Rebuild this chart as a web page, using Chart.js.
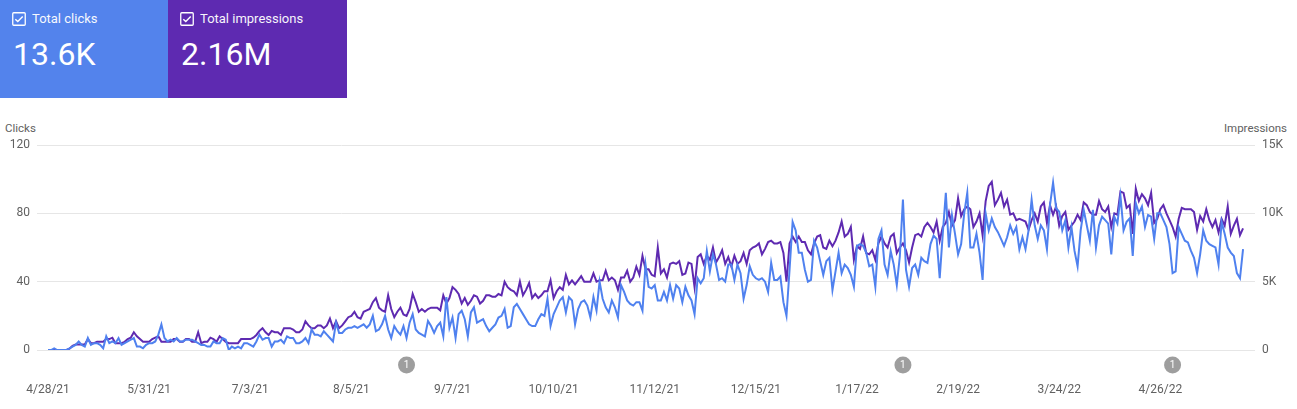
<!DOCTYPE html>
<html>
<head>
<meta charset="utf-8">
<script src="https://cdn.jsdelivr.net/npm/chart.js@4"></script>
<style>
  body { margin: 0; width: 1297px; height: 409px; overflow: hidden; background: #fff; font-family: Roboto, sans-serif; position: relative; }
  .card { position: absolute; top: 0; height: 98px; color: #fff; }
  .card .name { position: absolute; left: 32px; top: 11px; font-size: 13px; opacity: 0.95; }
  .card svg { position: absolute; left: 12px; top: 12px; }
  .card .value { position: absolute; left: 13px; top: 35px; font-size: 32px; }
  #clicksCard { left: 0; width: 168px; background: #5383ec; }
  #imprCard { left: 168px; width: 179px; background: #5e2ab1; }
  .axisTitle { position: absolute; top: 121px; font-size: 11.5px; color: #616161; }
  #wrap { position: absolute; left: 0; top: 100px; width: 1297px; height: 309px; }
</style>
</head>
<body>
<div class="card" id="clicksCard">
  <svg width="14" height="14" viewBox="0 0 14 14"><rect x="0.75" y="0.75" width="12.5" height="12.5" rx="1" fill="none" stroke="#fff" stroke-width="1.3"/><path d="M3.3 7.2 L5.8 9.6 L10.7 4.6" fill="none" stroke="#fff" stroke-width="1.4"/></svg>
  <div class="name">Total clicks</div>
  <div class="value">13.6K</div>
</div>
<div class="card" id="imprCard">
  <svg width="14" height="14" viewBox="0 0 14 14"><rect x="0.75" y="0.75" width="12.5" height="12.5" rx="1" fill="none" stroke="#fff" stroke-width="1.3"/><path d="M3.3 7.2 L5.8 9.6 L10.7 4.6" fill="none" stroke="#fff" stroke-width="1.4"/></svg>
  <div class="name">Total impressions</div>
  <div class="value">2.16M</div>
</div>
<div class="axisTitle" style="left:5px">Clicks</div>
<div class="axisTitle" style="right:10px">Impressions</div>
<div id="wrap"><canvas id="chart"></canvas></div>
<script>
// one value per day, starting 4/28/21
const startDate = '2021-04-28';

const clicks = [
  0, 0, 1, 0, 0, 0, 0, 1, 2, 3,
  5, 3, 2, 7, 3, 4, 4, 3, 1, 8,
  4, 5, 4, 7, 3, 4, 5, 6, 7, 2,
  2, 1, 3, 4, 4, 5, 9, 15, 7, 5,
  6, 5, 7, 5, 5, 6, 6, 6, 5, 4,
  3, 3, 2, 2, 5, 4, 4, 7, 6, 0,
  2, 1, 2, 1, 4, 4, 3, 2, 5, 9,
  6, 7, 7, 2, 5, 5, 6, 4, 8, 7,
  7, 4, 4, 5, 7, 4, 12, 9, 9, 8,
  11, 9, 7, 5, 16, 10, 10, 12, 13, 13,
  14, 13, 14, 15, 13, 15, 20, 11, 12, 15,
  20, 12, 7, 14, 11, 9, 14, 7, 16, 21,
  12, 10, 9, 8, 17, 14, 10, 14, 16, 8,
  31, 13, 19, 7, 21, 23, 18, 8, 22, 25,
  16, 17, 18, 14, 11, 13, 15, 19, 20, 24,
  13, 14, 25, 27, 24, 21, 18, 15, 14, 14,
  18, 21, 20, 30, 14, 21, 25, 29, 31, 22,
  31, 29, 15, 24, 28, 29, 26, 19, 31, 23,
  40, 30, 25, 22, 29, 25, 19, 38, 34, 29,
  27, 26, 28, 28, 23, 50, 37, 36, 38, 29,
  29, 34, 29, 38, 30, 38, 36, 28, 37, 32,
  29, 21, 42, 39, 42, 58, 46, 56, 50, 41,
  42, 40, 50, 50, 41, 50, 45, 30, 38, 49,
  44, 42, 41, 42, 40, 34, 51, 41, 41, 43,
  28, 20, 47, 75, 70, 57, 57, 47, 40, 41,
  64, 60, 52, 44, 52, 54, 35, 46, 57, 45,
  50, 48, 44, 37, 61, 62, 61, 57, 49, 50,
  37, 65, 70, 50, 44, 58, 50, 38, 55, 88,
  47, 37, 48, 50, 44, 54, 52, 51, 62, 67,
  65, 42, 68, 92, 60, 79, 68, 56, 62, 80,
  92, 60, 60, 68, 57, 41, 80, 70, 77, 72,
  69, 65, 61, 66, 73, 68, 72, 59, 66, 59,
  70, 88, 73, 65, 73, 70, 59, 85, 98, 83,
  81, 70, 76, 60, 72, 58, 49, 70, 82, 73,
  64, 82, 60, 73, 78, 76, 74, 56, 78, 74,
  90, 70, 75, 77, 55, 86, 80, 84, 72, 79,
  78, 65, 80, 80, 76, 72, 62, 45, 46, 72,
  68, 64, 63, 58, 54, 45, 56, 70, 64, 62,
  61, 60, 50, 75, 68, 60, 57, 55, 45, 42, 59
];

// impressions in thousands
const impressionsK = [
  0, 0, 0, 0, 0, 0, 0, 0.1, 0.3, 0.4,
  0.4, 0.4, 0.4, 0.8, 0.5, 0.5, 0.6, 0.6, 0.6, 0.8,
  0.8, 0.9, 0.5, 0.5, 0.5, 0.6, 0.8, 0.9, 1.3, 1.0,
  0.8, 0.6, 0.6, 0.6, 0.8, 0.9, 1.0, 0.6, 0.6, 0.6,
  0.6, 0.8, 0.8, 0.6, 0.6, 0.8, 0.8, 0.6, 0.6, 1.3,
  0.5, 0.6, 0.6, 0.9, 0.8, 0.6, 1.0, 0.8, 0.6, 0.5,
  0.5, 0.5, 0.5, 0.8, 0.8, 0.8, 0.8, 0.9, 1.1, 1.4,
  1.6, 1.3, 1.1, 1.4, 1.3, 1.3, 1.1, 1.6, 1.6, 1.6,
  1.5, 1.3, 1.3, 1.5, 2.1, 1.8, 1.6, 1.6, 1.8, 1.8,
  1.6, 1.8, 2.3, 1.6, 2.1, 1.6, 1.8, 2.1, 2.4, 2.5,
  2.8, 2.4, 2.3, 2.8, 2.9, 3.0, 3.5, 3.8, 3.1, 2.9,
  2.8, 4.0, 3.0, 2.4, 2.8, 3.1, 2.6, 2.5, 3.0, 4.1,
  3.5, 2.8, 3.0, 2.8, 3.0, 3.1, 3.1, 3.1, 2.9, 4.0,
  3.4, 3.8, 4.6, 4.4, 4.1, 3.4, 3.8, 3.3, 3.6, 4.0,
  3.9, 3.4, 3.6, 4.0, 4.0, 3.9, 3.9, 4.1, 4.0, 5.0,
  4.6, 4.4, 4.3, 4.0, 5.0, 4.0, 4.4, 4.9, 3.8, 4.1,
  3.8, 4.0, 4.3, 4.3, 5.1, 3.8, 4.3, 4.6, 4.4, 5.5,
  4.8, 5.1, 4.8, 5.1, 5.4, 5.0, 5.0, 5.0, 5.6, 5.0,
  5.1, 5.1, 5.8, 5.1, 5.3, 5.1, 4.4, 5.3, 5.3, 5.8,
  5.0, 5.3, 6.1, 5.5, 6.9, 5.9, 5.9, 5.5, 5.4, 7.5,
  5.6, 5.9, 5.3, 6.3, 6.4, 6.3, 6.5, 5.5, 5.6, 6.4,
  6.3, 4.6, 6.8, 7.0, 6.3, 6.9, 6.6, 7.5, 6.4, 6.8,
  7.3, 6.3, 6.8, 6.1, 6.9, 6.3, 6.5, 7.1, 6.3, 7.3,
  7.5, 7.6, 7.8, 7.0, 7.4, 7.9, 8.0, 7.8, 7.8, 7.9,
  7.1, 5.0, 7.8, 8.3, 7.9, 8.3, 7.9, 7.9, 7.3, 7.0,
  7.8, 8.3, 8.4, 7.5, 7.4, 8.0, 7.6, 8.0, 8.6, 9.4,
  8.3, 8.5, 9.0, 6.6, 7.6, 7.4, 8.3, 7.1, 7.0, 7.3,
  6.6, 7.8, 8.3, 7.8, 7.5, 8.3, 8.5, 7.1, 7.5, 7.8,
  7.3, 6.4, 7.5, 8.4, 8.5, 8.3, 9.0, 9.3, 9.0, 8.6,
  9.4, 8.0, 9.0, 9.3, 10.1, 9.1, 9.5, 11.1, 9.8, 10.3,
  10.5, 10.3, 9.0, 9.4, 10.0, 8.4, 10.9, 12.0, 12.3, 10.6,
  11.0, 11.5, 10.5, 11.0, 9.9, 10.0, 9.5, 9.6, 9.5, 9.4,
  8.8, 9.5, 10.0, 9.4, 10.5, 10.8, 9.3, 10.6, 9.9, 10.5,
  9.1, 9.8, 10.1, 8.8, 9.1, 9.4, 9.9, 9.5, 10.8, 10.6,
  10.1, 9.9, 9.9, 10.9, 10.3, 10.1, 10.5, 9.0, 10.0, 9.9,
  11.6, 11.5, 10.4, 10.6, 8.5, 11.8, 10.9, 11.4, 11.1, 10.6,
  11.5, 9.3, 9.6, 10.3, 10.6, 10.0, 9.5, 9.0, 8.3, 9.6,
  10.4, 10.3, 10.3, 10.3, 10.1, 8.8, 9.8, 9.4, 10.3, 9.5,
  9.0, 9.5, 8.6, 9.6, 9.1, 10.5, 8.5, 9.1, 9.6, 8.4, 8.9
];

const dateTicks = ['4/28/21', '5/31/21', '7/3/21', '8/5/21', '9/7/21', '10/10/21',
  '11/12/21', '12/15/21', '1/17/22', '2/19/22', '3/24/22', '4/26/22'];
const tickEvery = 33;

const clickTicks = [0, 40, 80, 120];
const impressionTicks = [0, 5, 10, 15];

const annotationDates = ['2021-08-23', '2022-02-01', '2022-04-30'];

const dayIndex = d => Math.round((new Date(d) - new Date(startDate)) / 86400000);

const annotationPlugin = {
  id: 'annotations',
  afterDraw(chart) {
    const ctx = chart.ctx;
    const xs = chart.scales.x;
    const y = chart.chartArea.bottom + 15;
    annotationDates.forEach(d => {
      const x = xs.getPixelForValue(dayIndex(d));
      ctx.save();
      ctx.beginPath();
      ctx.arc(x, y, 8.5, 0, Math.PI * 2);
      ctx.fillStyle = '#9e9e9e';
      ctx.fill();
      ctx.fillStyle = '#fff';
      ctx.font = '10px Roboto';
      ctx.textAlign = 'center';
      ctx.textBaseline = 'middle';
      ctx.fillText('1', x, y + 0.5);
      ctx.restore();
    });
  }
};

document.addEventListener('DOMContentLoaded', () => {
  const ctx = document.getElementById('chart').getContext('2d');
  const lastDay = clicks.length - 1;

  new Chart(ctx, {
    type: 'line',
    data: {
      datasets: [{
        label: 'Clicks',
        data: clicks.map((v, i) => ({ x: i, y: v })),
        yAxisID: 'y',
        borderColor: '#4f81ef',
        borderWidth: 2,
        pointRadius: 0,
        tension: 0
      }, {
        label: 'Impressions',
        data: impressionsK.map((v, i) => ({ x: i, y: v })),
        yAxisID: 'y1',
        borderColor: '#5e2ab1',
        borderWidth: 2,
        pointRadius: 0,
        tension: 0
      }]
    },
    options: {
      responsive: true,
      maintainAspectRatio: false,
      animation: false,
      layout: { padding: { top: 45, left: 0, right: 0, bottom: 0 } },
      plugins: { legend: { display: false }, tooltip: { enabled: false } },
      scales: {
        x: {
          type: 'linear',
          min: -3.6,
          max: lastDay + 3.9,
          // tick marks are not drawn, their length only pushes the labels down
          grid: { display: false, drawTicks: true, tickLength: 30 },
          border: { display: false },
          afterBuildTicks: s => { s.ticks = dateTicks.map((_, k) => ({ value: k * tickEvery })); },
          afterFit: s => { s.height = 59; },
          ticks: {
            autoSkip: false,
            maxRotation: 0,
            padding: 3,
            color: '#616161',
            font: { family: 'Roboto', size: 12 },
            callback: v => dateTicks[v / tickEvery]
          }
        },
        y: {
          position: 'left',
          min: 0,
          max: 120,
          afterBuildTicks: s => { s.ticks = clickTicks.map(v => ({ value: v })); },
          afterFit: s => { s.width = 37; },
          grid: { color: '#e6e6e6', drawTicks: false },
          border: { display: false },
          ticks: { padding: 7, color: '#616161', font: { family: 'Roboto', size: 12 } }
        },
        y1: {
          position: 'right',
          min: 0,
          max: 15,
          afterBuildTicks: s => { s.ticks = impressionTicks.map(v => ({ value: v })); },
          afterFit: s => { s.width = 42; },
          grid: { display: false, drawTicks: false },
          border: { display: false },
          ticks: {
            padding: 7,
            color: '#616161',
            font: { family: 'Roboto', size: 12 },
            callback: v => v === 0 ? '0' : v + 'K'
          }
        }
      }
    },
    plugins: [annotationPlugin]
  });
});
</script>
</body>
</html>
